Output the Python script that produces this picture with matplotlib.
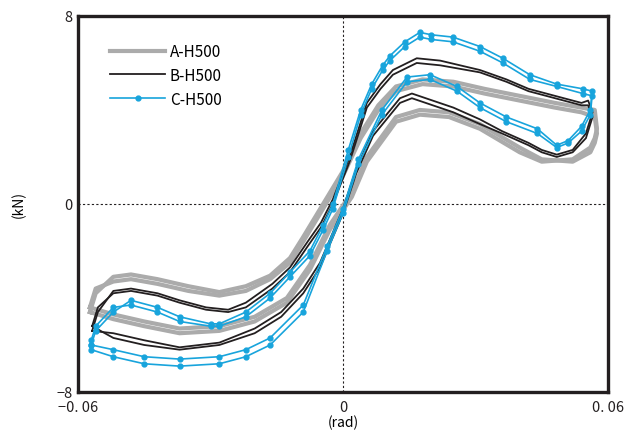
import matplotlib
matplotlib.use('Agg')
import matplotlib.pyplot as plt

plt.rcParams['font.family'] = ['Noto Sans CJK JP', 'DejaVu Sans']

# ---- data (rotation in rad, load in kN) ----
# each loop: upper branch left->right, then lower branch right->left

# A-H500
a_up_x = [-0.0573, -0.0560, -0.0520, -0.0480, -0.0420, -0.0350, -0.0280, -0.0220, -0.0165,
          -0.0120, -0.0090, -0.0045, 0.0000, 0.0040, 0.0080, 0.0120, 0.0180, 0.0250,
          0.0320, 0.0400, 0.0480, 0.0540, 0.0570]
a_up_y1 = [-4.6, -3.8, -3.1, -3.0, -3.2, -3.5, -3.75, -3.5, -3.05,
           -2.3, -1.4, 0.0, 1.4, 3.0, 4.2, 5.0, 5.3, 5.2,
           4.9, 4.6, 4.3, 4.1, 4.0]
a_up_y2 = [-4.4, -3.6, -3.3, -3.2, -3.4, -3.7, -3.9, -3.7, -3.2,
           -2.5, -1.6, -0.2, 1.2, 2.8, 4.0, 4.8, 5.1, 5.0,
           4.7, 4.4, 4.1, 3.9, 3.7]
a_lo_x = [0.0575, 0.0570, 0.0560, 0.0520, 0.0450, 0.0400, 0.0310, 0.0240, 0.0174,
          0.0120, 0.0054, 0.0020, -0.0030, -0.0075, -0.0127, -0.0200, -0.0280, -0.0370,
          -0.0450, -0.0520, -0.0573]
a_lo_y1 = [3.2, 2.8, 2.4, 1.9, 1.8, 2.2, 3.2, 3.7, 3.8,
           3.5, 1.8, 0.3, -1.1, -2.8, -4.2, -5.0, -5.4, -5.5,
           -5.2, -4.9, -4.6]
a_lo_y2 = [3.0, 2.6, 2.2, 1.8, 1.9, 2.4, 3.4, 3.9, 4.0,
           3.7, 2.0, 0.5, -0.9, -2.6, -4.0, -4.8, -5.2, -5.3,
           -5.0, -4.7, -4.4]

# B-H500
b_up_x = [-0.0568, -0.0555, -0.0520, -0.0480, -0.0420, -0.0370, -0.0310, -0.0260, -0.0220,
          -0.0160, -0.0120, -0.0080, -0.0050, -0.0023, 0.0015, 0.0054, 0.0085, 0.0113,
          0.0167, 0.0220, 0.0310, 0.0370, 0.0420, 0.0480, 0.0540, 0.0555]
b_up_y1 = [-5.4, -4.6, -3.7, -3.6, -3.8, -4.1, -4.4, -4.5, -4.2,
           -3.4, -2.7, -1.6, -0.8, 0.2, 2.0, 4.3, 5.1, 5.7,
           6.2, 6.1, 5.7, 5.3, 4.9, 4.6, 4.3, 4.4]
b_up_y2 = [-5.2, -4.4, -3.8, -3.7, -3.9, -4.2, -4.5, -4.6, -4.4,
           -3.6, -2.9, -1.8, -1.0, 0.0, 1.8, 4.1, 4.9, 5.5,
           6.0, 5.9, 5.6, 5.2, 4.8, 4.5, 4.2, 4.2]
b_lo_x = [0.0565, 0.0550, 0.0520, 0.0484, 0.0450, 0.0420, 0.0360, 0.0310, 0.0250,
          0.0156, 0.0129, 0.0068, 0.0030, 0.0000, -0.0052, -0.0090, -0.0140, -0.0200,
          -0.0280, -0.0370, -0.0450, -0.0520, -0.0568]
b_lo_y1 = [3.9, 3.0, 2.3, 2.1, 2.3, 2.6, 3.1, 3.6, 4.1,
           4.7, 4.5, 3.1, 1.5, -0.2, -2.5, -3.6, -4.6, -5.3,
           -5.9, -6.1, -5.8, -5.5, -5.4]
b_lo_y2 = [3.7, 2.8, 2.2, 2.0, 2.2, 2.5, 3.0, 3.4, 3.9,
           4.5, 4.3, 2.9, 1.3, -0.4, -2.7, -3.8, -4.8, -5.5,
           -6.0, -6.2, -6.0, -5.7, -5.2]

# C-H500
c_up_x = [-0.0570, -0.0560, -0.0520, -0.0480, -0.0420, -0.0370, -0.0300, -0.0280, -0.0220,
          -0.0165, -0.0120, -0.0075, -0.0045, -0.0023, 0.0012, 0.0040, 0.0065, 0.0090,
          0.0106, 0.0140, 0.0174, 0.0200, 0.0249, 0.0310, 0.0362, 0.0423, 0.0484, 0.0543,
          0.0564]
c_up_y1 = [-6.0, -5.4, -4.6, -4.1, -4.4, -4.8, -5.1, -5.1, -4.6,
           -3.8, -2.9, -2.0, -0.9, 0.0, 2.3, 4.0, 5.1, 5.9,
           6.3, 6.9, 7.3, 7.2, 7.1, 6.7, 6.2, 5.5, 5.1, 4.9,
           4.8]
c_up_y2 = [-5.8, -5.2, -4.4, -4.3, -4.6, -5.0, -5.2, -5.2, -4.8,
           -4.0, -3.1, -2.2, -1.1, -0.2, 2.0, 3.8, 4.9, 5.7,
           6.1, 6.7, 7.1, 7.0, 6.9, 6.5, 6.0, 5.3, 5.0, 4.7,
           4.6]
c_lo_x = [0.0560, 0.0540, 0.0510, 0.0484, 0.0440, 0.0370, 0.0310, 0.0258, 0.0197,
          0.0145, 0.0088, 0.0035, 0.0000, -0.0036, -0.0090, -0.0165, -0.0220, -0.0280,
          -0.0370, -0.0450, -0.0520, -0.0570]
c_lo_y1 = [4.0, 3.3, 2.7, 2.5, 3.2, 3.7, 4.3, 5.0, 5.5,
           5.4, 4.0, 1.9, -0.2, -1.8, -4.3, -5.7, -6.2, -6.5,
           -6.6, -6.5, -6.2, -6.0]
c_lo_y2 = [3.8, 3.1, 2.6, 2.4, 3.0, 3.5, 4.1, 4.8, 5.3,
           5.2, 3.8, 1.7, -0.4, -2.0, -4.6, -6.0, -6.5, -6.8,
           -6.9, -6.8, -6.5, -6.2]

x_ticks = [-0.06, 0, 0.06]
x_ticklabels = ['\u22120. 06', '0', '0. 06']
y_ticks = [-8, 0, 8]
y_ticklabels = ['\u22128', '0', '8']

gray = '#ababab'
black = '#231f20'
blue = '#18a4dc'

fig = plt.figure(figsize=(6.25, 4.35), dpi=100)
ax = fig.add_axes([0.1248, 0.0966, 0.8480, 0.8644])

ax.axhline(0, color=black, lw=0.8, ls=(0, (2, 2)), zorder=1)
ax.axvline(0, color=black, lw=0.8, ls=(0, (2, 2)), zorder=1)

loops = [
    (a_up_x, a_up_y1, a_lo_x, a_lo_y1),
    (a_up_x, a_up_y2, a_lo_x, a_lo_y2),
]
for i, (ux, uy, lx, ly) in enumerate(loops):
    ax.plot(ux + lx, uy + ly, color=gray, lw=3.0, solid_joinstyle='round',
            label='A-H500' if i == 0 else None, zorder=2)

loops = [
    (b_up_x, b_up_y1, b_lo_x, b_lo_y1),
    (b_up_x, b_up_y2, b_lo_x, b_lo_y2),
]
for i, (ux, uy, lx, ly) in enumerate(loops):
    ax.plot(ux + lx, uy + ly, color=black, lw=1.3,
            label='B-H500' if i == 0 else None, zorder=3)

loops = [
    (c_up_x, c_up_y1, c_lo_x, c_lo_y1),
    (c_up_x, c_up_y2, c_lo_x, c_lo_y2),
]
for i, (ux, uy, lx, ly) in enumerate(loops):
    ax.plot(ux + lx, uy + ly, color=blue, lw=1.2, marker='o', ms=3.5,
            label='C-H500' if i == 0 else None, zorder=4)

ax.set_xlim(-0.06, 0.06)
ax.set_ylim(-8, 8)
ax.set_xticks(x_ticks)
ax.set_xticklabels(x_ticklabels)
ax.set_yticks(y_ticks)
ax.set_yticklabels(y_ticklabels)
ax.tick_params(length=0, labelsize=10.5, colors='#231f20')
ax.tick_params(axis='x', pad=6)
ax.tick_params(axis='y', pad=4)
for s in ax.spines.values():
    s.set_linewidth(2.4)
    s.set_color(black)

ax.set_xlabel('(rad)', fontsize=10, labelpad=0)
ax.set_ylabel('(kN)', fontsize=10, labelpad=22)

leg = ax.legend(loc='upper left', bbox_to_anchor=(0.035, 0.965), frameon=False,
                fontsize=11, handlelength=3.6, handletextpad=0.3, labelspacing=0.45)

fig.savefig('out.png', dpi=100)
